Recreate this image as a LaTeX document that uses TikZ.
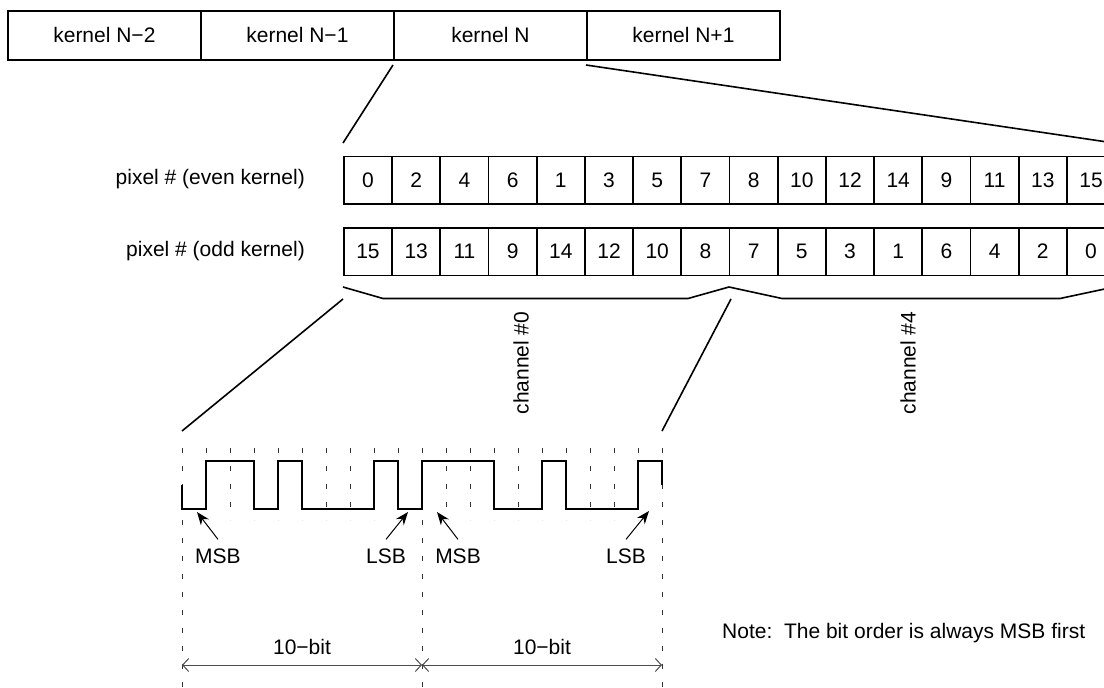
\documentclass[tikz,border=0pt]{standalone}
\usepackage{fontspec}
\setmainfont{Liberation Sans}
\usetikzlibrary{arrows.meta}
\begin{document}
\frenchspacing
\begin{tikzpicture}[x=1pt,y=-1pt,
  every node/.style={font=\fontsize{21}{25}\selectfont,inner sep=0pt},
  kbox/.style={draw,line width=1.8pt,minimum width=193pt,minimum height=49pt,anchor=north west},
  pbox/.style={draw,line width=1.8pt,minimum width=48.2pt,minimum height=47.5pt,anchor=north west},
  link/.style={line width=1.6pt,line join=round},
  wave/.style={line width=2.2pt,line join=miter},
  bitgrid/.style={line width=1pt,draw=black!80,dash pattern=on 5pt off 13pt},
  dimline/.style={line width=1pt,draw=black!70,{Straight Barb[length=6pt,width=13pt]}-{Straight Barb[length=6pt,width=13pt]}},
  ptr/.style={line width=1pt,-{Stealth[length=13pt,width=10pt]}}
]
\useasboundingbox (0,0) rectangle (1104,688);

% kernels
\node[kbox] (k1) at (7,10) {kernel N−2};
\node[kbox] (k2) at (200,10) {kernel N−1};
\node[kbox] (k3) at (393,10) {kernel N};
\node[kbox] (k4) at (586,10) {kernel N+1};

% pixel rows
\foreach \v [count=\i from 0] in {0,2,4,6,1,3,5,7,8,10,12,14,9,11,13,15}
  \node[pbox] (e\i) at ({343+48.2*\i},155.5) {\v};
\foreach \v [count=\i from 0] in {15,13,11,9,14,12,10,8,7,5,3,1,6,4,2,0}
  \node[pbox] (o\i) at ({343+48.2*\i},227) {\v};

\node[anchor=east] (le) at (305,179.5) {pixel \# (even kernel)};
\node[anchor=east] (lo) at (305,251) {pixel \# (odd kernel)};

% zoom lines from kernel N
\coordinate (za) at (393,65);
\coordinate (zb) at (586,65);
\coordinate (zc) at (343,143);
\coordinate (zd) at (1114,143);
\draw[link] (za) -- (zc);
\draw[link] (zb) -- (zd);

% braces
\coordinate (b0) at (343,287);
\coordinate (b1) at (383,298.5);
\coordinate (b2) at (688,298.5);
\coordinate (b3) at (729,287);
\coordinate (b4) at (782,298.5);
\coordinate (b5) at (1060,298.5);
\coordinate (b6) at (1114,287);
\draw[link] (b0) -- (b1) -- (b2) -- (b3) -- (b4) -- (b5) -- (b6);

\node[rotate=90] (c0) at (521,363) {channel \#0};
\node[rotate=90] (c4) at (908,363) {channel \#4};

% lines to waveform
\coordinate (wa) at (343,299);
\coordinate (wb) at (182,431);
\coordinate (wc) at (731,299);
\coordinate (wd) at (662,431);
\draw[link] (wa) -- (wb);
\draw[link] (wc) -- (wd);

% bit grid
\foreach \k in {0,...,20}
  \draw[bitgrid] ({182+24*\k},448) -- ({182+24*\k},520);
\foreach \x in {182,422,662}
  \draw[bitgrid] (\x,448) -- (\x,688);

% waveform
\draw[wave] (182,485) -- (182,509) -- (206,509) -- (206,461) -- (254,461) -- (254,509)
  -- (278,509) -- (278,461) -- (302,461) -- (302,509) -- (374,509) -- (374,461)
  -- (398,461) -- (398,509) -- (422,509) -- (422,461) -- (494,461) -- (494,509)
  -- (542,509) -- (542,461) -- (566,461) -- (566,509) -- (638,509) -- (638,461)
  -- (662,461) -- (662,485);

% MSB / LSB pointers
\node (m1) at (218,556) {MSB};
\node (l1) at (386,556) {LSB};
\node (m2) at (458,556) {MSB};
\node (l2) at (626,556) {LSB};
\coordinate (tm1) at (197,512);
\coordinate (tl1) at (408,512);
\coordinate (tm2) at (437,512);
\coordinate (tl2) at (649,511);
\draw[ptr] ([yshift=9pt]m1.north) -- (tm1);
\draw[ptr] ([yshift=9pt]l1.north) -- (tl1);
\draw[ptr] ([yshift=9pt]m2.north) -- (tm2);
\draw[ptr] ([yshift=9pt]l2.north) -- (tl2);

% dimensions
\coordinate (d0) at (182,665);
\coordinate (d1) at (422,665);
\coordinate (d2) at (662,665);
\draw[dimline] (d0) -- (d1);
\draw[dimline] (d1) -- (d2);
\node (t1) at (302,647) {10−bit};
\node (t2) at (542,647) {10−bit};

\node[anchor=west] (note) at (722,633) {Note:\ \ The bit order is always MSB first};
\end{tikzpicture}
\end{document}
